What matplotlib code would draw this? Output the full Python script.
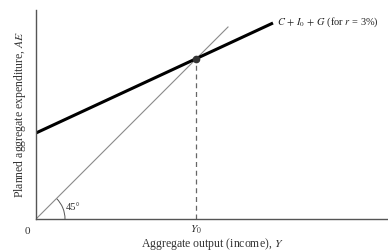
import numpy as np
import matplotlib
matplotlib.use("Agg")
import matplotlib.pyplot as plt
from matplotlib.patches import Arc

plt.rcParams['font.family'] = ['Liberation Serif', 'DejaVu Serif']
plt.rcParams['mathtext.fontset'] = 'stix'

# planned expenditure line C + I0 + G (endpoints)
ae_x = [0, 237]
ae_y = [86, 196]
# 45 degree line
diag_x = [0, 192]
diag_y = [0, 192]
# equilibrium
y0 = 160
ae_at_y0 = 160

fig = plt.figure(figsize=(3.88, 2.52), dpi=100)
ax = fig.add_axes([36 / 388, 33 / 252, 352 / 388, 209 / 252])
ax.set_xlim(0, 352)
ax.set_ylim(0, 209)

ax.plot(diag_x, diag_y, color='#8a8a8a', linewidth=0.8)
ax.plot(ae_x, ae_y, color='black', linewidth=2.2, solid_capstyle='butt')
ax.plot([y0, y0], [0, ae_at_y0], color='#666666', linewidth=0.9, linestyle=(0, (4, 3)))
ax.plot([y0], [ae_at_y0], 'o', color='#333333', markersize=4.5)

ax.add_patch(Arc((0, 0), 58, 58, theta1=0, theta2=45, color='#555555', linewidth=0.7))
ax.text(37, 11, '45°', fontsize=7.5, ha='center', va='center', color='#333333')

ax.text(241, 197, r'$C\,+\,I_0\,+\,G$ (for $r$ = 3%)', fontsize=7.5, ha='left', va='center',
        color='#222222')

for s in ['top', 'right']:
    ax.spines[s].set_visible(False)
for s in ['left', 'bottom']:
    ax.spines[s].set_color('#555555')
    ax.spines[s].set_linewidth(1.0)
ax.set_xticks([])
ax.set_yticks([])

ax.text(-9, -13, '0', fontsize=8, ha='center', va='center', color='#333333')
ax.text(y0, -11, r'$Y_0$', fontsize=8, ha='center', va='center', color='#333333')
ax.text(176, -25, r'Aggregate output (income), $Y$', fontsize=8.5, ha='center', va='center',
        color='#333333')
ax.text(-16, 105, r'Planned aggregate expenditure, $AE$', fontsize=8.5, ha='center',
        va='center', rotation=90, color='#333333')

fig.savefig('out.png', dpi=100)
